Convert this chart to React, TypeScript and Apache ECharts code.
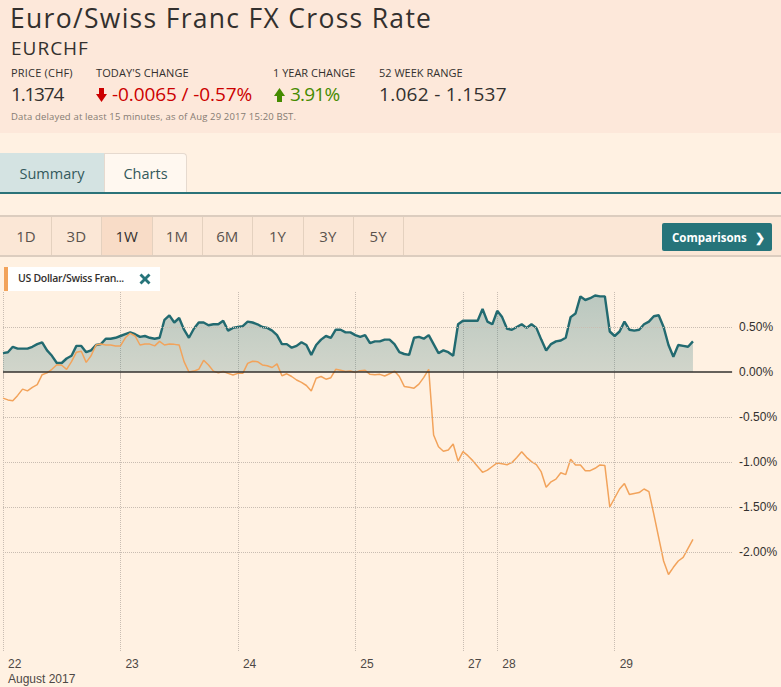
import React, { useEffect, useRef } from "react";
import * as echarts from "echarts";

// ---- chart data (hourly trading slots, % change since start) ----
const dayTickIndex = [0, 24, 48, 72, 94, 101, 125];
const dayLabels = ["22", "23", "24", "25", "27", "28", "29"];
const monthLabel = "August 2017";
const slotCount = 150;

const eurchf = [
  0.21, 0.22, 0.28, 0.26, 0.26, 0.26, 0.28, 0.31, 0.33, 0.24,
  0.18, 0.10, 0.10, 0.15, 0.18, 0.29, 0.29, 0.22, 0.24, 0.30,
  0.31, 0.37, 0.37, 0.38, 0.40, 0.42, 0.44, 0.42, 0.39, 0.40,
  0.38, 0.37, 0.38, 0.58, 0.63, 0.55, 0.60, 0.47, 0.38, 0.48,
  0.55, 0.55, 0.52, 0.53, 0.53, 0.57, 0.46, 0.49, 0.50, 0.51,
  0.56, 0.55, 0.53, 0.50, 0.49, 0.46, 0.41, 0.31, 0.31, 0.27,
  0.29, 0.33, 0.30, 0.19, 0.30, 0.36, 0.40, 0.38, 0.47, 0.47,
  0.44, 0.44, 0.41, 0.39, 0.41, 0.32, 0.34, 0.34, 0.36, 0.36,
  0.31, 0.22, 0.20, 0.19, 0.38, 0.39, 0.37, 0.41, 0.31, 0.21,
  0.24, 0.22, 0.18, 0.53, 0.57, 0.57, 0.57, 0.57, 0.70, 0.56,
  0.53, 0.68, 0.61, 0.48, 0.47, 0.50, 0.53, 0.49, 0.53, 0.49,
  0.36, 0.24, 0.31, 0.34, 0.35, 0.38, 0.61, 0.65, 0.84, 0.80,
  0.82, 0.85, 0.84, 0.84, 0.45, 0.40, 0.45, 0.56, 0.47, 0.46,
  0.47, 0.53, 0.56, 0.62, 0.63, 0.50, 0.30, 0.17, 0.30, 0.29,
  0.28, 0.34,
];

const usdchf = [
  -0.29, -0.31, -0.32, -0.26, -0.19, -0.21, -0.17, -0.14, -0.03, -0.01,
  0.03, 0.08, 0.075, 0.03, 0.115, 0.22, 0.23, 0.107, 0.18, 0.30,
  0.31, 0.30, 0.30, 0.29, 0.29, 0.38, 0.43, 0.40, 0.30, 0.31,
  0.31, 0.29, 0.34, 0.30, 0.31, 0.307, 0.30, 0.115, 0.00, 0.01,
  0.03, 0.13, 0.078, 0.01, -0.01, 0.005, -0.015, -0.033, -0.015, -0.015,
  0.096, 0.12, 0.115, 0.078, 0.07, 0.05, 0.09, -0.041, -0.02, -0.05,
  -0.089, -0.115, -0.15, -0.21, -0.07, -0.05, -0.08, -0.063, 0.03, 0.019,
  0.005, 0.011, -0.004, 0.015, 0.019, -0.026, -0.03, -0.026, -0.045, -0.02,
  0.01, -0.05, -0.16, -0.17, -0.18, -0.135, -0.06, 0.03, -0.70, -0.83,
  -0.88, -0.867, -0.80, -0.99, -0.885, -0.93, -0.985, -1.05, -1.115, -1.09,
  -1.05, -1.01, -1.02, -1.03, -1.007, -0.95, -0.885, -0.948, -0.996, -1.03,
  -1.11, -1.28, -1.22, -1.19, -1.12, -1.14, -0.97, -1.033, -1.033, -1.096,
  -1.096, -1.07, -1.033, -1.04, -1.50, -1.40, -1.30, -1.24, -1.36, -1.35,
  -1.34, -1.30, -1.33, -1.58, -1.84, -2.10, -2.25, -2.17, -2.10, -2.06,
  -1.96, -1.86,
];

const yTickValues = [0.5, 0, -0.5, -1, -1.5, -2];
const gridValues = [0.5, -0.5, -1, -1.5, -2];
const zeroValue = 0;
const yMin = -3.1;
const yMax = 0.8889;

const periods = ["1D", "3D", "1W", "1M", "6M", "1Y", "3Y", "5Y"];
const selectedPeriod = "1W";

const FONT = "'Open Sans', 'Noto Sans', sans-serif";
const AXIS_FONT = "'Liberation Sans', Arial, sans-serif";

function Txt(props: any) {
  const { x, y, size, color = "#33302e", weight = 400, ls = 0, children } = props;
  return (
    <div
      style={{
        position: "absolute",
        left: x,
        top: y,
        fontSize: size,
        lineHeight: 1,
        color,
        fontWeight: weight,
        whiteSpace: "nowrap",
        letterSpacing: ls,
      }}
    >
      {children}
    </div>
  );
}

export default function App() {
  const ref = useRef<HTMLDivElement>(null);

  useEffect(() => {
    if (!ref.current) return;
    const chart = echarts.init(ref.current, null, { renderer: "svg" });
    const tickSet = new Set(dayTickIndex);
    const categories = Array.from({ length: slotCount }, (_, i) => String(i));
    const isTick = (i: number) => tickSet.has(i);

    chart.setOption({
      animation: false,
      grid: { left: 2, right: 48.9, top: 32, bottom: 36, containLabel: false },
      xAxis: {
        type: "category",
        data: categories,
        boundaryGap: false,
        axisLine: { show: false },
        axisTick: {
          show: true,
          interval: isTick,
          length: 6,
          lineStyle: { color: "#c4b8ad" },
        },
        axisLabel: {
          interval: isTick,
          formatter: (_v: string, i: number) => {
            const k = dayTickIndex.indexOf(i);
            if (k < 0) return "";
            return k === 0 ? dayLabels[k] + "\n" + monthLabel : dayLabels[k];
          },
          align: "left",
          verticalAlign: "top",
          padding: [0, 0, 0, 5],
          margin: 5,
          color: "#4d4845",
          fontSize: 12,
          lineHeight: 15,
          fontFamily: AXIS_FONT,
        },
        splitLine: {
          show: true,
          interval: isTick,
          lineStyle: { type: "dotted", color: "#c9bdb2", width: 1 },
        },
      },
      yAxis: {
        type: "value",
        position: "right",
        min: yMin,
        max: yMax,
        splitLine: { show: false },
        axisLine: { show: false },
        axisTick: { show: false },
        axisLabel: {
          customValues: yTickValues,
          formatter: (v: number) => v.toFixed(2) + "%",
          margin: 7,
          color: "#33302e",
          fontSize: 12,
          fontFamily: AXIS_FONT,
        },
      },
      series: [
        {
          type: "line",
          name: "grid",
          data: eurchf,
          symbol: "none",
          silent: true,
          lineStyle: { opacity: 0 },
          z: 1,
          markLine: {
            silent: true,
            symbol: ["none", "none"],
            label: { show: false },
            lineStyle: { type: "dotted", color: "#c9bdb2", width: 1 },
            data: gridValues.map((v) => ({ yAxis: v })),
          },
        },
        {
          type: "line",
          name: "EURCHF",
          data: eurchf,
          symbol: "none",
          lineStyle: { color: "#226a70", width: 2.4 },
          areaStyle: {
            color: new echarts.graphic.LinearGradient(0, 0, 0, 1, [
              { offset: 0, color: "rgba(38,110,116,0.45)" },
              { offset: 1, color: "rgba(38,110,116,0.30)" },
            ]),
          },
          z: 2,
        },
        {
          type: "line",
          name: "US Dollar/Swiss Franc",
          data: usdchf,
          symbol: "none",
          lineStyle: { color: "#f2a35b", width: 1.5 },
          z: 3,
          markLine: {
            silent: true,
            symbol: ["none", "none"],
            label: { show: false },
            lineStyle: { type: "solid", color: "#33302e", width: 1.5 },
            data: [{ yAxis: zeroValue }],
          },
        },
      ],
    });
    return () => chart.dispose();
  }, []);

  return (
    <div
      style={{
        position: "fixed",
        left: 0,
        top: 0,
        width: 781,
        height: 687,
        overflow: "hidden",
        background: "#fff1e2",
        fontFamily: FONT,
      }}
    >
      {/* header */}
      <div style={{ position: "absolute", left: 0, top: 0, width: 781, height: 133, background: "#fde8da" }} />
      <Txt x={10} y={5} size={26.5} ls={1.3}>Euro/Swiss Franc FX Cross Rate</Txt>
      <Txt x={11} y={39} size={19} ls={1}>EURCHF</Txt>
      <Txt x={11} y={67} size={11} ls={0.2}>PRICE (CHF)</Txt>
      <Txt x={96} y={67} size={11} ls={0.1}>TODAY'S CHANGE</Txt>
      <Txt x={273} y={67} size={11}>1 YEAR CHANGE</Txt>
      <Txt x={379} y={67} size={11}>52 WEEK RANGE</Txt>
      <Txt x={11} y={85} size={19} ls={-1.2}>1.1374</Txt>
      <svg style={{ position: "absolute", left: 96, top: 88 }} width={11} height={14}>
        <polygon points="3,0 8,0 8,6 11,6 5.5,14 0,6 3,6" fill="#cc0000" />
      </svg>
      <Txt x={112} y={85} size={19} color="#cc0000" ls={-0.1}>-0.0065 / -0.57%</Txt>
      <svg style={{ position: "absolute", left: 274, top: 88 }} width={11} height={14}>
        <polygon points="5.5,0 11,8 8,8 8,14 3,14 3,8 0,8" fill="#458b00" />
      </svg>
      <Txt x={290} y={85} size={19} color="#458b00" ls={-0.8}>3.91%</Txt>
      <Txt x={379} y={85} size={19} ls={0.3}>1.062 - 1.1537</Txt>
      <Txt x={11} y={111.5} size={9.5} color="#857b73" ls={0.15}>
        Data delayed at least 15 minutes, as of Aug 29 2017 15:20 BST.
      </Txt>

      {/* tabs */}
      <div
        style={{
          position: "absolute", left: 0, top: 153, width: 104, height: 40, background: "#d4e3e2",
          display: "flex", alignItems: "center", justifyContent: "center", fontSize: 14.5, color: "#33595c",
        }}
      >
        Summary
      </div>
      <div
        style={{
          position: "absolute", left: 104, top: 153, width: 81, height: 39, background: "#fff8f0",
          border: "1px solid #e6dacf", borderBottom: "none", borderTopRightRadius: 4,
          display: "flex", alignItems: "center", justifyContent: "center", fontSize: 14.5, color: "#33595c",
        }}
      >
        Charts
      </div>
      <div style={{ position: "absolute", left: 0, top: 192, width: 781, height: 2, background: "#2b7379" }} />

      {/* period bar */}
      <div
        style={{
          position: "absolute", left: 0, top: 215, width: 781, height: 38, background: "#fbe7d6",
          borderTop: "2px solid #dccdbf", borderBottom: "2px solid #dccdbf",
        }}
      >
        {periods.map((p, k) => (
          <div
            key={p}
            style={{
              position: "absolute", left: 1 + k * 50.3, top: 0, width: 50, height: 38,
              borderRight: "1px solid #e4d1bf",
              background: p === selectedPeriod ? "#f8dcc7" : "transparent",
              display: "flex", alignItems: "center", justifyContent: "center",
              fontSize: 15, color: p === selectedPeriod ? "#33302e" : "#5a524d",
            }}
          >
            {p}
          </div>
        ))}
        <div
          style={{
            position: "absolute", left: 662, top: 6, width: 110, height: 28, background: "#26747a",
            borderRadius: 2, color: "#ffffff", fontWeight: 700, fontSize: 11.5,
          }}
        >
          <span style={{ position: "absolute", left: 10, top: 7 }}>Comparisons</span>
          <span style={{ position: "absolute", left: 93, top: 6, fontSize: 12 }}>❯</span>
        </div>
      </div>

      {/* chart */}
      <div ref={ref} style={{ position: "absolute", left: 0, top: 260, width: 781, height: 427 }} />

      {/* comparison legend */}
      <div
        style={{
          position: "absolute", left: 4, top: 267, width: 152, height: 24, background: "#ffffff",
          borderLeft: "4px solid #f2a35b", zIndex: 2,
        }}
      >
        <span
          style={{
            position: "absolute", left: 10, top: 6, fontSize: 10.5, fontWeight: 600, color: "#33302e",
            whiteSpace: "nowrap", letterSpacing: -0.3, lineHeight: 1,
          }}
        >
          US Dollar/Swiss Fran...
        </span>
        <svg style={{ position: "absolute", left: 131, top: 6 }} width={12} height={12}>
          <line x1={1.5} y1={1.5} x2={10.5} y2={10.5} stroke="#26747a" strokeWidth={2.8} />
          <line x1={10.5} y1={1.5} x2={1.5} y2={10.5} stroke="#26747a" strokeWidth={2.8} />
        </svg>
      </div>
    </div>
  );
}
